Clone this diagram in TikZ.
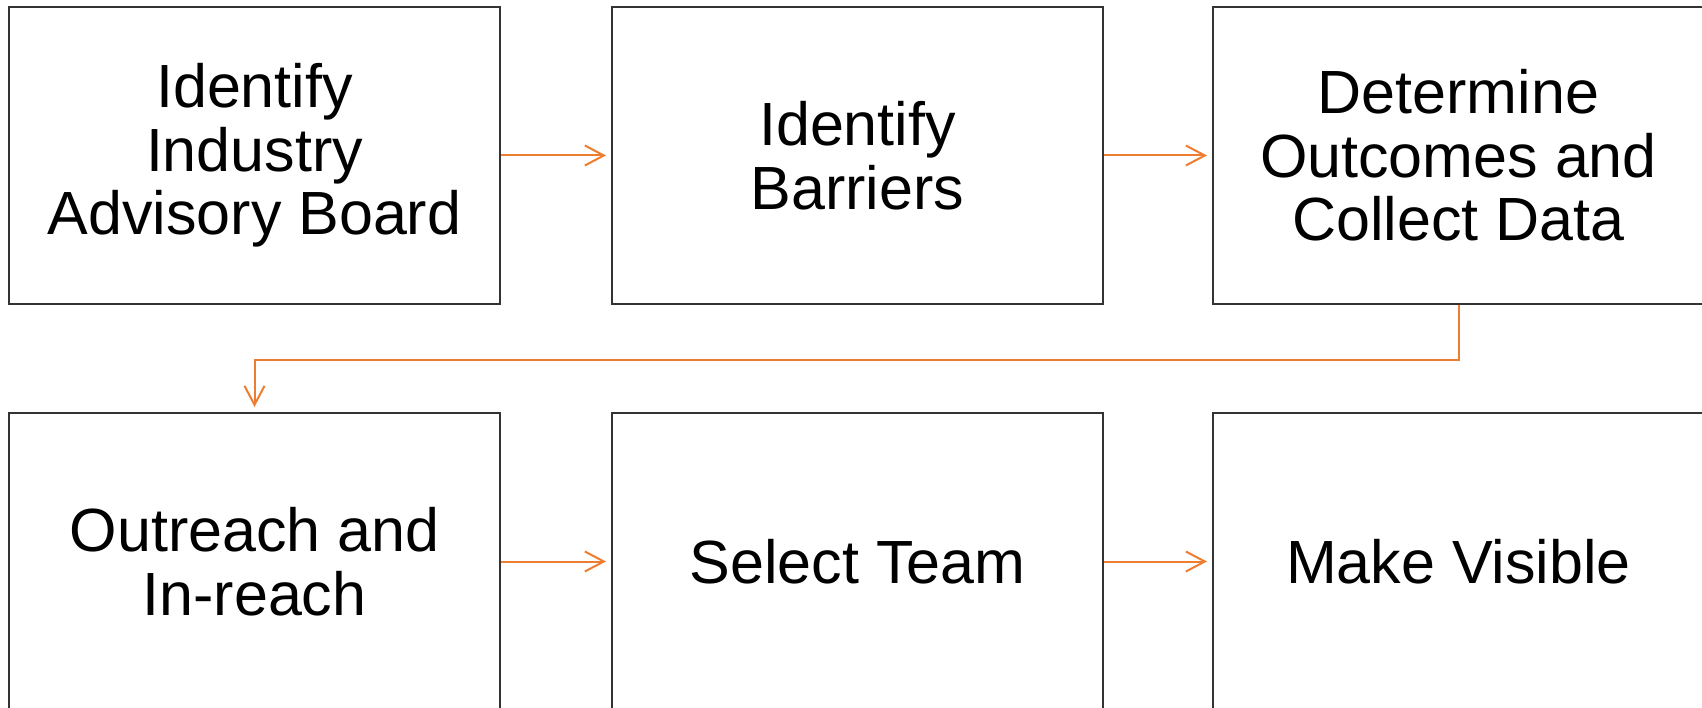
\documentclass[tikz,border=0pt]{standalone}
\usepackage{fontspec}
\setmainfont{Liberation Sans}
\usetikzlibrary{arrows.meta}
\definecolor{boxline}{HTML}{333333}
\definecolor{flow}{HTML}{ED7D31}
\begin{document}
\begin{tikzpicture}[x=1pt,y=-1pt,
  stepbox/.style={draw=boxline,line width=2pt,rectangle,minimum width=491pt,minimum height=297pt,
    align=center,inner sep=0pt,font=\fontsize{61}{63.5}\selectfont},
  flowarrow/.style={draw=flow,line width=2pt,-{Straight Barb[length=19pt,width=20pt,line width=2pt]},shorten >=5pt}]
\useasboundingbox (0,0) rectangle (1702,708);
\begin{scope}
\clip (0,0) rectangle (1702,708);
\node[stepbox] (b1) at (254.5,155.5) {Identify\\Industry\\Advisory Board};
\node[stepbox] (b2) at (857.5,155.5) {Identify\\Barriers};
\node[stepbox] (b3) at (1458.5,155.5) {Determine\\Outcomes and\\Collect Data};
\node[stepbox] (b4) at (254.5,561.5) {Outreach and\\In-reach};
\node[stepbox] (b5) at (857.5,561.5) {Select Team};
\node[stepbox] (b6) at (1458.5,561.5) {Make Visible};
\draw[flowarrow] (b1.east) -- (b2.west);
\draw[flowarrow] (b2.east) -- (b3.west);
\draw[flowarrow] (b4.east) -- (b5.west);
\draw[flowarrow] (b5.east) -- (b6.west);
\draw[flowarrow] (b3.south) -- ++(0,55) -| (b4.north);
\end{scope}
\end{tikzpicture}
\end{document}
